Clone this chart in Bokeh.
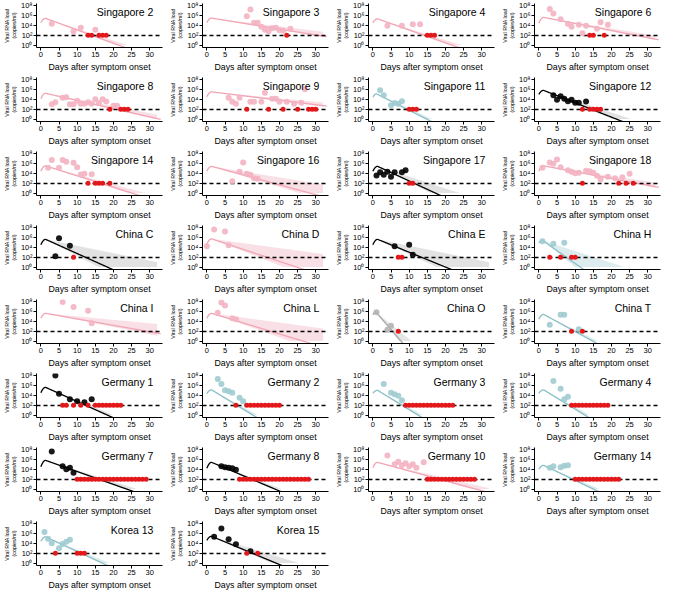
import numpy as np
from bokeh.plotting import figure
from bokeh.layouts import gridplot
from bokeh.models import Range1d, FixedTicker, CustomJSTickFormatter, Label
from bokeh.embed import file_html
from bokeh.resources import INLINE

NAMES = ["Singapore 2", "Singapore 3", "Singapore 4", "Singapore 6",
         "Singapore 8", "Singapore 9", "Singapore 11", "Singapore 12",
         "Singapore 14", "Singapore 16", "Singapore 17", "Singapore 18",
         "China C", "China D", "China E", "China H",
         "China I", "China L", "China O", "China T",
         "Germany 1", "Germany 2", "Germany 3", "Germany 4",
         "Germany 7", "Germany 8", "Germany 10", "Germany 14",
         "Korea 13", "Korea 15"]

GROUP = ["pink", "pink", "pink", "pink",
         "pink", "pink", "teal", "black",
         "pink", "pink", "black", "pink",
         "black", "pink", "black", "teal",
         "pink", "pink", "gray", "teal",
         "black", "teal", "teal", "teal",
         "black", "black", "pink", "teal",
         "teal", "black"]

# detected samples: day after onset and log10 viral load
POS_DAYS = [
    [3, 9, 11, 15],
    [11, 12, 13, 14, 15, 16, 17, 18, 19, 20, 21, 23],
    [4, 8, 11, 13],
    [3, 4, 6, 8, 9, 11, 12, 13, 16, 17, 19],
    [3, 4, 6, 7, 8, 9, 10, 11, 12, 13, 14, 15, 16, 17, 18, 20, 21],
    [6, 7, 8, 9, 12, 13, 15, 16, 18, 19, 20, 22, 24, 26, 27],
    [2, 3, 5, 6, 7, 8],
    [4, 5, 6, 7, 8, 9, 10, 11, 13],
    [2, 3, 5, 6, 7, 9, 10, 11, 12, 14],
    [7, 9, 10, 11, 12, 13, 14],
    [1, 2, 3, 4, 5, 6, 8, 9],
    [1, 3, 4, 5, 6, 8, 9, 10, 11, 13, 14, 15, 16, 17, 19, 21, 23, 25],
    [4, 5, 8],
    [0, 2, 5, 6],
    [6, 10, 11],
    [1, 4, 7],
    [6, 9, 13, 14],
    [3, 4, 5, 7, 8],
    [1, 4, 5],
    [3, 6, 7, 11],
    [4, 5, 8, 10, 12, 14],
    [3, 4, 5, 6, 7, 9, 10],
    [3, 5, 6, 7, 8],
    [4, 6, 7, 8],
    [3, 6, 7, 8, 9],
    [4, 5, 6, 7, 8],
    [4, 6, 7, 8, 9, 10, 11, 12, 14],
    [3, 4, 6, 7, 8],
    [1, 2, 3, 5, 6, 7, 8],
    [2, 4, 6, 8, 12],
]
POS_LOG = [
    [4.3, 2.8, 3.5, 3.1],
    [5.8, 7.2, 4.5, 4.5, 3.7, 3.1, 2.8, 3.4, 3.5, 3.0, 2.9, 3.3],
    [3.9, 3.9, 4.2, 4.2],
    [7.3, 6.4, 5.2, 4.3, 3.7, 4.1, 2.4, 3.9, 3.3, 4.6, 4.1],
    [3.0, 3.4, 4.3, 4.4, 3.0, 3.0, 3.7, 3.1, 3.1, 3.4, 3.1, 4.0, 3.25, 4.0, 3.55, 2.7, 2.7],
    [4.3, 3.5, 3.1, 4.3, 3.5, 3.5, 3.5, 5.3, 4.1, 4.1, 3.5, 3.5, 3.1, 3.3, 6.0],
    [5.8, 4.8, 2.8, 3.25, 3.1, 3.6],
    [4.8, 3.9, 4.6, 4.1, 3.6, 3.9, 3.3, 3.3, 3.55],
    [5.1, 6.7, 5.1, 6.7, 6.35, 6.1, 5.2, 3.75, 3.9, 3.8],
    [2.4, 4.3, 6.2, 3.9, 3.7, 3.0, 2.9],
    [3.55, 4.2, 3.7, 4.3, 3.3, 4.2, 4.2, 4.6],
    [5.1, 6.2, 5.9, 6.8, 5.2, 4.6, 4.3, 4.0, 4.1, 4.5, 4.4, 4.1, 3.5, 2.8, 3.3, 3.0, 3.2, 3.9],
    [2.2, 5.8, 4.3],
    [4.2, 7.6, 7.2, 4.4],
    [4.2, 4.5, 2.5],
    [5.2, 4.7, 4.9],
    [7.9, 6.9, 6.1, 3.6],
    [5.7, 7.8, 7.2, 4.6, 4.4],
    [5.8, 2.3, 3.1],
    [3.3, 5.3, 5.3, 2.4],
    [8.0, 4.3, 3.2, 2.8, 2.6, 3.2],
    [7.3, 6.3, 5.0, 4.8, 4.5, 3.5, 2.8],
    [6.3, 4.5, 4.2, 3.9, 3.0],
    [6.9, 5.3, 3.2, 3.7],
    [7.6, 4.6, 4.0, 4.3, 3.3],
    [4.6, 4.4, 4.3, 4.2, 3.9],
    [6.8, 5.0, 5.5, 4.8, 5.2, 4.6, 5.0, 4.3, 5.4],
    [4.3, 4.6, 4.4, 4.7, 4.8],
    [6.3, 4.9, 4.0, 3.0, 3.85, 4.3, 4.7],
    [5.3, 7.0, 4.8, 3.8, 2.4],
]
# undetected samples (plotted at the detection limit)
NEG_DAYS = [
    [13, 14, 16, 17, 18],
    [22],
    [15, 16, 17],
    [14, 15, 18],
    [19, 22, 23, 24],
    [11, 17, 21, 25, 28, 29, 30],
    [10, 11, 12],
    [12, 14, 15, 16, 17],
    [13, 15, 16, 17, 19],
    [],
    [10, 11],
    [12, 22, 24, 26],
    [9],
    [],
    [7, 8],
    [3, 6, 9, 10],
    [],
    [],
    [7],
    [9, 12],
    [6, 7, 9, 11, 13, 15, 16, 17, 18, 19, 20, 21, 22],
    [8, 11, 12, 13, 14, 15, 16, 17, 18, 19, 20],
    [9, 10, 11, 12, 13, 14, 15, 16, 17, 18, 19, 20, 21, 22],
    [9, 10, 11, 12, 13, 14, 15, 16, 17, 18, 19],
    [10, 11, 12, 13, 14, 15, 16, 17, 18, 19, 20, 21, 22, 23, 24, 25, 26, 27, 28, 29],
    [9, 10, 11, 12, 13, 14, 15, 16, 17, 18, 19, 20, 21, 22, 23, 24, 25, 26, 27, 28],
    [15, 16, 17, 18, 19, 20, 21, 22, 23, 24, 25, 26, 27, 28],
    [10, 11, 12, 13, 14, 15, 16, 17, 18, 19, 20, 21, 22],
    [4, 10, 11, 12],
    [11, 14],
]

# fitted model parameters (log10 units)
FIT_START = [4.5, 4.5, 4.5, 4.4, 4.1, 4.5, 4.4, 5.0, 4.4, 4.4, 4.4, 4.4,
             4.5, 4.6, 4.5, 4.9, 4.6, 4.6, 5.3, 4.4, 4.5, 4.3, 4.4, 4.4,
             4.5, 4.2, 4.3, 4.0, 4.4, 4.6]
FIT_PEAK = [5.4, 5.45, 5.3, 5.6, 5.2, 5.5, 5.1, 5.8, 5.5, 5.4, 5.4, 5.5,
            5.6, 5.7, 5.6, 5.4, 5.6, 5.6, 5.9, 5.4, 5.6, 5.1, 5.0, 5.1,
            5.8, 5.4, 5.4, 4.8, 5.3, 5.4]
FIT_PEAK_DAY = [1.3, 1.3, 1.3, 1.3, 1.3, 1.3, 1.0, 1.3, 1.3, 1.3, 1.3, 1.3,
                1.3, 1.3, 1.3, 1.0, 1.3, 1.3, 0.8, 1.3, 1.3, 1.3, 1.3, 1.3,
                1.3, 1.3, 1.3, 1.3, 1.3, 1.3]
FIT_SLOPE = [-0.27, -0.119, -0.26, -0.143, -0.166, -0.091, -0.37, -0.29, -0.232, -0.2, -0.34, -0.137,
             -0.33, -0.244, -0.3, -0.52, -0.13, -0.223, -0.85, -0.4, -0.33, -0.45, -0.45, -0.45,
             -0.26, -0.31, -0.2, -0.35, -0.34, -0.305]
BAND_SLOPE = [-0.24, -0.09, -0.23, -0.12, -0.14, -0.07, -0.33, -0.24, -0.2, -0.12, -0.24, -0.11,
              -0.15, -0.1, -0.15, -0.24, -0.07, -0.1, -0.6, -0.36, -0.3, -0.4, -0.4, -0.4,
              -0.23, -0.28, -0.17, -0.31, -0.3, -0.225]

LOD = 100
X_TICKS = [0, 5, 10, 15, 20, 25, 30]
Y_TICKS = [1, 1e2, 1e4, 1e6, 1e8]

COLORS = {
    "pink": dict(pt="#f4b3c2", line="#f2a5b5", band="#f7d3dc"),
    "teal": dict(pt="#9fcbd0", line="#8bbfc5", band="#cfe5e8"),
    "black": dict(pt="#000000", line="#000000", band="#d6d6d6"),
    "gray": dict(pt="#b4b4b4", line="#a8a8a8", band="#dadada"),
}
RED = "#e3181b"
FONT = "Liberation Sans"

sup_fmt = CustomJSTickFormatter(code="""
const sup = {0: "\u2070", 2: "\u00b2", 4: "\u2074", 6: "\u2076", 8: "\u2078"};
const e = Math.round(Math.log10(tick));
return "10" + (sup[e] !== undefined ? sup[e] : e);
""")


def make_panel(i, h):
    c = COLORS[GROUP[i]]
    p = figure(width=166, height=h, output_backend="svg", toolbar_location=None,
               x_range=Range1d(-1.2, 33.5), y_range=Range1d(10 ** -0.5, 10 ** 8.4),
               y_axis_type="log", min_border_left=30, min_border_right=4,
               min_border_top=3, min_border_bottom=25)
    p.outline_line_color = None
    p.xgrid.visible = False
    p.ygrid.visible = False
    p.background_fill_color = "white"
    p.border_fill_color = "white"

    L0, Lp, tp, s, sb = FIT_START[i], FIT_PEAK[i], FIT_PEAK_DAY[i], FIT_SLOPE[i], BAND_SLOPE[i]
    # confidence band
    tb = np.linspace(tp, 32, 200)
    up = Lp + sb * (tb - tp)
    lo = Lp + (s + (s - sb) * 0.3) * (tb - tp)
    up = np.maximum(up, 0.0)
    lo = np.maximum(lo, 0.0)
    p.varea(x=tb, y1=10 ** lo, y2=10 ** up, fill_color=c["band"], fill_alpha=0.7)
    # fitted curve
    t = np.linspace(0, 33, 400)
    L = np.where(t < tp, Lp - (Lp - L0) * ((tp - t) / tp) ** 2, Lp + s * (t - tp))
    keep = L > -0.6
    p.line(t[keep], 10 ** L[keep], line_color=c["line"], line_width=1.3)
    # detection limit
    p.hspan(y=[LOD], line_color="black", line_width=1.5, line_dash="4 3")
    # points
    p.scatter(POS_DAYS[i], [10 ** v for v in POS_LOG[i]], size=6,
              fill_color=c["pt"], line_color=None, fill_alpha=0.9)
    if NEG_DAYS[i]:
        p.scatter(NEG_DAYS[i], [LOD] * len(NEG_DAYS[i]), size=5,
                  fill_color=RED, line_color=None)

    p.add_layout(Label(x=31, y=10 ** 6.7, text=NAMES[i], text_align="right",
                       text_baseline="middle", text_font_size="10.5px",
                       text_font=FONT, text_color="black"))

    for ax in (p.xaxis[0], p.yaxis[0]):
        ax.axis_line_width = 1
        ax.axis_line_color = "black"
        ax.major_tick_line_color = "black"
        ax.major_tick_out = 3
        ax.major_tick_in = 0
        ax.minor_tick_line_color = None
        ax.major_label_text_font = FONT
        ax.major_label_text_color = "black"
        ax.axis_label_text_font = FONT
        ax.axis_label_text_font_style = "normal"
        ax.axis_label_text_color = "black"
        ax.major_label_standoff = 1
    p.xaxis.ticker = FixedTicker(ticks=X_TICKS)
    p.xaxis.major_label_text_font_size = "7.5px"
    p.xaxis.axis_label = "Days after symptom onset"
    p.xaxis.axis_label_text_font_size = "8.8px"
    p.xaxis.axis_label_standoff = 2
    p.yaxis.ticker = FixedTicker(ticks=Y_TICKS)
    p.yaxis.formatter = sup_fmt
    p.yaxis.major_label_text_font_size = "7.5px"
    p.yaxis.axis_label = "Viral RNA load\n(copies/ml)"
    p.yaxis.axis_label_text_font_size = "5.3px"
    p.yaxis.axis_label_standoff = 1
    return p


figs = []
for i in range(len(NAMES)):
    figs.append(make_panel(i, 74))

grid = gridplot(figs, ncols=4, toolbar_location=None)
open("out.html", "w").write(file_html(grid, INLINE))
